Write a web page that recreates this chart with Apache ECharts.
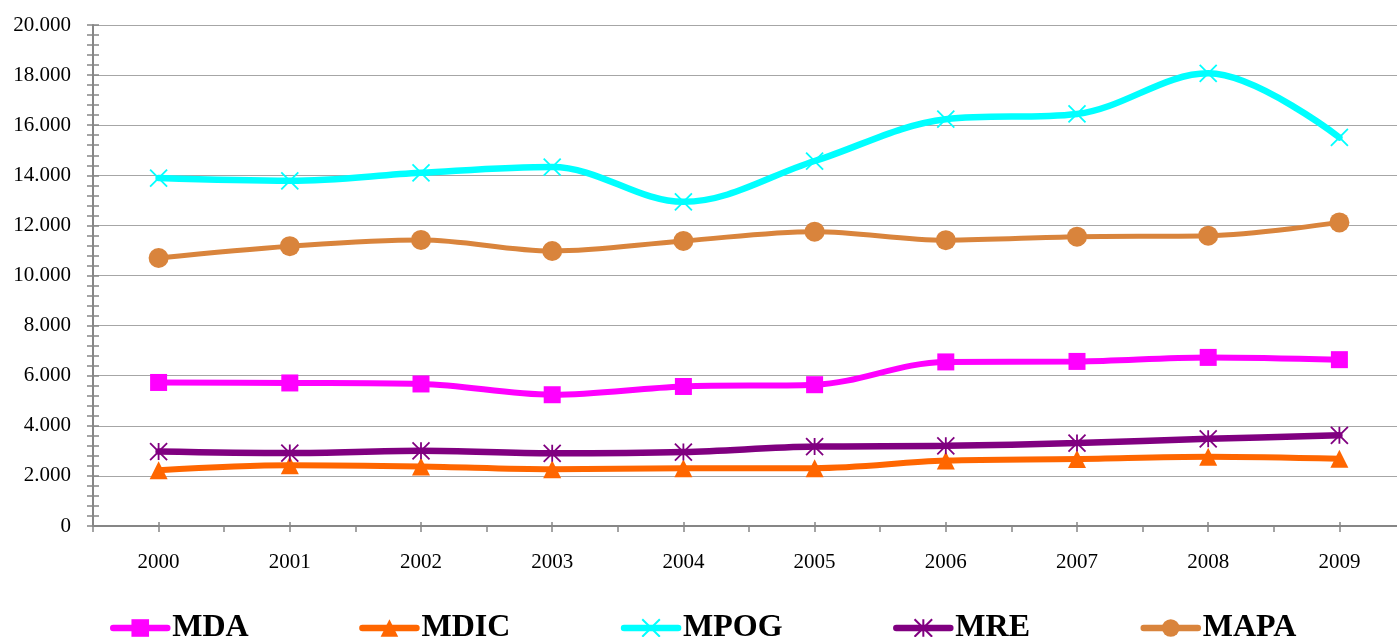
<!DOCTYPE html>
<html>
<head>
<meta charset="utf-8">
<script src="https://cdn.jsdelivr.net/npm/echarts@6/dist/echarts.min.js"></script>
<style>
  html, body { margin: 0; padding: 0; background: #fff; overflow: hidden; }
  #chart { width: 1412px; height: 637px; }
</style>
</head>
<body>
<div id="chart"></div>
<script>
// Years on the category axis
const years = ['2000', '2001', '2002', '2003', '2004', '2005', '2006', '2007', '2008', '2009'];

// Series values per ministry
const MDA  = [5730, 5710, 5670, 5240, 5570, 5640, 6550, 6570, 6730, 6640];
const MDIC = [2230, 2430, 2380, 2270, 2310, 2310, 2610, 2670, 2760, 2680];
const MPOG = [13890, 13780, 14100, 14330, 12940, 14570, 16240, 16450, 18070, 15510];
const MRE  = [2970, 2910, 3000, 2900, 2950, 3170, 3200, 3310, 3480, 3620];
const MAPA = [10700, 11170, 11420, 10980, 11380, 11750, 11410, 11550, 11590, 12120];

// Value axis range and step
const yMin = 0;
const yMax = 20000;
const yStep = 2000;

const serif = '"Liberation Serif", "DejaVu Serif", serif';
const axisGrey = '#868686';

// Thousands with a dot, as in pt-BR
function fmtThousands(v) {
  const s = String(Math.round(v));
  return s.replace(/\B(?=(\d{3})+(?!\d))/g, '.');
}

const asterisk = 'path://M0,0L10,10M10,0L0,10M5,0L5,10';
const cross = 'path://M0,0L10,10M10,0L0,10';

const styles = {
  MDA:  { color: '#ff00ff', width: 6,   symbol: 'rect',     size: 17, stroked: false },
  MDIC: { color: '#ff6600', width: 6,   symbol: 'triangle', size: 18, stroked: false },
  MPOG: { color: '#00ffff', width: 6.5, symbol: cross,      size: 17, stroked: true },
  MRE:  { color: '#800080', width: 6.5, symbol: asterisk,   size: 17, stroked: true },
  MAPA: { color: '#d9843c', width: 5,   symbol: 'circle',   size: 20, stroked: false }
};

function lineSeries(name, data) {
  const st = styles[name];
  const s = {
    name: name,
    type: 'line',
    data: data,
    smooth: 0.35,
    symbol: st.symbol,
    symbolSize: st.size,
    showAllSymbol: true,
    lineStyle: { color: st.color, width: st.width, cap: 'round' },
    itemStyle: { color: st.color },
    emphasis: { disabled: true },
    z: 3
  };
  if (st.stroked) {
    s.itemStyle = { color: st.color, borderColor: st.color, borderWidth: 1.8 };
  }
  return s;
}

const legendNames = ['MDA', 'MDIC', 'MPOG', 'MRE', 'MAPA'];

const chart = echarts.init(document.getElementById('chart'), null, { renderer: 'canvas' });

chart.setOption({
  animation: false,
  backgroundColor: '#ffffff',
  grid: { left: 93, top: 25, width: 1312, height: 501, containLabel: false },
  legend: {
    data: legendNames.map(function (n) {
      return { name: n, lineStyle: { width: 6.5, cap: 'round' } };
    }),
    left: 105,
    top: 607,
    itemWidth: 54,
    itemHeight: 22,
    itemGap: 110.5,
    textStyle: { fontFamily: serif, fontWeight: 'bold', fontSize: 32, color: '#000' }
  },
  xAxis: [
    {
      type: 'category',
      data: years,
      boundaryGap: true,
      position: 'bottom',
      axisLine: { lineStyle: { color: axisGrey, width: 2 } },
      axisTick: { show: true, interval: 0, alignWithLabel: false, length: 6, lineStyle: { color: axisGrey, width: 1.5 } },
      axisLabel: { interval: 0, margin: 26, fontFamily: serif, fontSize: 21, color: '#000' },
      splitLine: { show: false }
    },
    {
      type: 'category',
      data: years,
      boundaryGap: true,
      position: 'bottom',
      axisLine: { show: false },
      axisTick: { show: true, interval: 0, alignWithLabel: true, length: 6, lineStyle: { color: axisGrey, width: 1.5 } },
      axisLabel: { show: false },
      splitLine: { show: false }
    },
    {
      type: 'category',
      data: years,
      boundaryGap: true,
      position: 'bottom',
      axisLine: { show: false },
      axisTick: { show: true, interval: 0, alignWithLabel: true, inside: true, length: 4, lineStyle: { color: axisGrey, width: 1.5 } },
      axisLabel: { show: false },
      splitLine: { show: false }
    }
  ],
  yAxis: [
    {
      type: 'value',
      min: yMin,
      max: yMax,
      interval: yStep,
      position: 'left',
      axisLine: { show: true, lineStyle: { color: axisGrey, width: 2 } },
      axisTick: { show: true, length: 6, lineStyle: { color: axisGrey, width: 1.5 } },
      minorTick: { show: true, splitNumber: 5, length: 6, lineStyle: { color: axisGrey, width: 1.5 } },
      axisLabel: { margin: 22, fontFamily: serif, fontSize: 21, color: '#000', formatter: fmtThousands },
      splitLine: { show: true, lineStyle: { color: '#a6a6a6', width: 1 } }
    },
    {
      type: 'value',
      min: yMin,
      max: yMax,
      interval: yStep,
      position: 'left',
      axisLine: { show: false },
      axisTick: { show: true, inside: true, length: 6, lineStyle: { color: axisGrey, width: 1.5 } },
      minorTick: { show: true, splitNumber: 5, length: 6, lineStyle: { color: axisGrey, width: 1.5 } },
      axisLabel: { show: false },
      splitLine: { show: false }
    }
  ],
  series: [
    lineSeries('MDA', MDA),
    lineSeries('MDIC', MDIC),
    lineSeries('MPOG', MPOG),
    lineSeries('MRE', MRE),
    lineSeries('MAPA', MAPA)
  ]
});
</script>
</body>
</html>
